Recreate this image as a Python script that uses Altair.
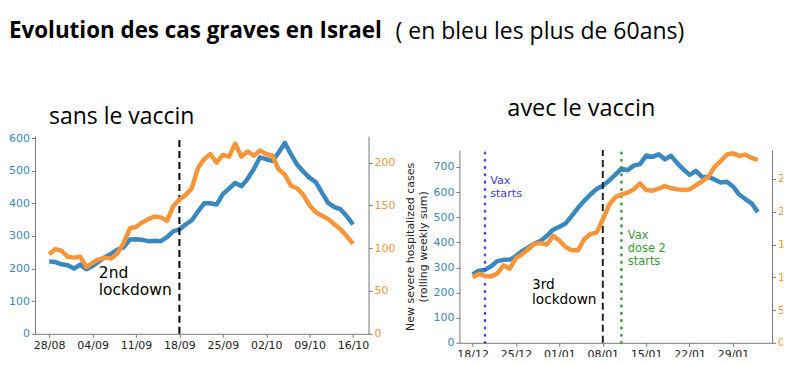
import altair as alt
import pandas as pd

BLUE = "#3a88c0"
ORANGE = "#f8953a"

# ---------------- data: left panel ("sans le vaccin") ----------------
left_start = "2020-08-28"
left_blue = [222, 220, 213, 210, 200, 212, 198, 208, 222, 235,
             245, 258, 265, 289, 290, 288, 284, 285, 284, 296,
             314, 320, 335, 348, 375, 400, 400, 396, 428, 445,
             462, 452, 475, 505, 541, 535, 530, 555, 585, 550,
             518, 497, 478, 465, 432, 401, 388, 381, 360, 335]
left_orange = [93, 99, 97, 90, 89, 90, 78, 83, 87, 89,
               88, 94, 106, 123, 125, 130, 134, 137, 136, 132,
               149, 157, 162, 170, 194, 204, 210, 200, 209, 207,
               222, 207, 213, 208, 214, 210, 208, 192, 186, 173,
               170, 162, 150, 142, 138, 134, 128, 122, 114, 105]
left_ticks = ["2020-08-28", "2020-09-04", "2020-09-11", "2020-09-18",
              "2020-09-25", "2020-10-02", "2020-10-09", "2020-10-16"]
left_domain = ["2020-08-25T17:00:00", "2020-10-18T12:00:00"]
left_blue_ticks = [0, 100, 200, 300, 400, 500, 600]
left_orange_ticks = [0, 50, 100, 150, 200]
left_blue_domain = [0, 606]
left_orange_domain = [0, 231]
left_event_dates = ["2020-09-18"]
left_label_dates = ["2020-09-05T00:00:00"]
left_label_y = [207]
left_labels = ["2nd\nlockdown"]

# ---------------- data: right panel ("avec le vaccin") ----------------
right_start = "2020-12-18"
right_blue = [272, 287, 290, 305, 325, 330, 331, 345, 365, 380,
              395, 406, 426, 450, 462, 475, 505, 537, 565, 590,
              612, 625, 645, 668, 693, 687, 705, 711, 745, 740,
              750, 730, 744, 715, 690, 668, 684, 660, 660, 650,
              638, 641, 622, 590, 572, 555, 520]
right_orange = [100, 105, 102, 101, 106, 118, 113, 129, 135, 143,
                151, 152, 150, 163, 156, 146, 141, 141, 158, 166,
                168, 188, 210, 222, 226, 229, 234, 243, 233, 232,
                235, 239, 236, 234, 233, 234, 240, 246, 253, 268,
                277, 287, 289, 285, 287, 282, 279]
right_ticks = ["2020-12-18", "2020-12-25", "2021-01-01", "2021-01-08",
               "2021-01-15", "2021-01-22", "2021-01-29"]
right_domain = ["2020-12-15T21:00:00", "2021-02-04T07:00:00"]
right_blue_ticks = [0, 100, 200, 300, 400, 500, 600, 700]
right_orange_ticks = [0, 50, 100, 150, 200, 250]
right_blue_domain = [0, 767]
right_orange_domain = [0, 294]
right_event_dates = ["2020-12-20", "2021-01-08", "2021-01-11"]
right_label_dates = ["2020-12-20T20:00:00", "2020-12-27T14:00:00", "2021-01-12T01:00:00"]
right_label_y = [668, 259, 450]
right_labels = ["Vax\nstarts", "3rd\nlockdown", "Vax\ndose 2\nstarts"]
right_ytitle = ["New severe hospitalized cases", "(rolling weekly sum)"]

# ---------------- texts above the panels ----------------
caption_texts = ["Evolution des cas graves en Israel", "( en bleu les plus de 60ans)",
                 "sans le vaccin", "avec le vaccin"]

# ---------------- layout / styles ----------------
W, H = 738, 207                      # whole plotting canvas (both panels)
LEFT_X, LEFT_Y = [0, 334], [198, 0]  # left panel pixel range
RIGHT_X, RIGHT_Y = [425, 738], [207, 14]

caption_styles = [
    dict(x=-26, y=-98, fontSize=22.4, fontWeight="bold"),
    dict(x=361, y=-97, fontSize=23, fontWeight="normal"),
    dict(x=14, y=-12, fontSize=23, fontWeight="normal"),
    dict(x=473, y=-20, fontSize=23.5, fontWeight="normal"),
]
DOTS = dict(strokeDash=[0.5, 6.8], strokeWidth=2.6, strokeCap="round")
left_event_styles = [
    dict(text=dict(color="black", fontSize=15.5, lineHeight=16.6),
         rule=dict(color="black", strokeDash=[7, 4], strokeWidth=2)),
]
right_event_styles = [
    dict(text=dict(color="#3a3ae0", fontSize=11.2, lineHeight=13),
         rule=dict(color="#4a4af0", **DOTS)),
    dict(text=dict(color="black", fontSize=13.7, lineHeight=15),
         rule=dict(color="#222222", strokeDash=[7, 4], strokeWidth=2)),
    dict(text=dict(color="#3a9a3a", fontSize=11.4, lineHeight=13),
         rule=dict(color="#3a9a3a", **DOTS)),
]


def dt(s):
    t = pd.Timestamp(s)
    return alt.DateTime(year=t.year, month=t.month, date=t.day, hours=t.hour)


def panel(start, blue_vals, orange_vals, ticks, domain, bdom, bticks, odom, oticks,
          ev_dates, lab_dates, lab_y, labels, ev_styles, xr, yr, x_off, yl_off, yr_off,
          ytitle=None, fs=11):
    df = pd.DataFrame({
        "date": pd.date_range(start, periods=len(blue_vals), freq="D"),
        "blue": blue_vals,
        "orange": orange_vals,
    })
    xs = alt.Scale(domain=[dt(domain[0]), dt(domain[1])], range=xr)
    xaxis = alt.Axis(values=[dt(t) for t in ticks], format="%d/%m", title=None,
                     orient="bottom", labelColor="#222222", labelFontSize=fs,
                     offset=x_off)
    x = alt.X("date:T", scale=xs, axis=xaxis)
    x_noaxis = alt.X("date:T", scale=xs, axis=None)
    bscale = alt.Scale(domain=bdom, nice=False, zero=True, range=yr)
    oscale = alt.Scale(domain=odom, nice=False, zero=True, range=yr)
    yaxis_kw = dict(values=bticks, orient="left", labelColor=BLUE, labelFontSize=fs,
                    offset=yl_off)
    if ytitle:
        yaxis_kw.update(title=ytitle, titleFont="DejaVu Sans", titleFontSize=11,
                        titleFontWeight="normal", titleColor="#222222", titlePadding=4)
    else:
        yaxis_kw.update(title=None)
    yaxis = alt.Axis(**yaxis_kw)
    base = alt.Chart(df)
    blue = base.mark_line(color=BLUE, strokeWidth=4.5, strokeJoin="round").encode(
        x=x, y=alt.Y("blue:Q", scale=bscale, axis=yaxis))
    parts = [blue]
    for d, ld, yv, lab, st in zip(ev_dates, lab_dates, lab_y, labels, ev_styles):
        tdf = pd.DataFrame({"date": [pd.Timestamp(ld)], "val": [yv], "label": [lab]})
        parts.append(alt.Chart(tdf).mark_text(baseline="top", align="left", lineBreak="\n",
                                              font="DejaVu Sans", **st["text"]).encode(
            x=x, y=alt.Y("val:Q", scale=bscale, axis=yaxis), text="label:N"))
        rdf = pd.DataFrame({"date": [pd.Timestamp(d)], "lo": [bdom[0]], "hi": [bdom[1]]})
        parts.append(alt.Chart(rdf).mark_rule(**st["rule"]).encode(
            x=x, y=alt.Y("lo:Q", scale=bscale, axis=yaxis), y2="hi:Q"))
    orange = base.mark_line(color=ORANGE, strokeWidth=4.5, strokeJoin="round").encode(
        x=x_noaxis, y=alt.Y("orange:Q", scale=oscale,
                            axis=alt.Axis(values=oticks, orient="right", labelColor=ORANGE,
                                          title=None, labelFontSize=fs, offset=yr_off)))
    return [alt.layer(*parts), orange]


left_layers = panel(left_start, left_blue, left_orange, left_ticks, left_domain,
                    left_blue_domain, left_blue_ticks, left_orange_domain, left_orange_ticks,
                    left_event_dates, left_label_dates, left_label_y, left_labels,
                    left_event_styles, LEFT_X, LEFT_Y,
                    x_off=LEFT_Y[0] - H, yl_off=-LEFT_X[0], yr_off=LEFT_X[1] - W)

right_layers = panel(right_start, right_blue, right_orange, right_ticks, right_domain,
                     right_blue_domain, right_blue_ticks, right_orange_domain,
                     right_orange_ticks, right_event_dates, right_label_dates,
                     right_label_y, right_labels, right_event_styles, RIGHT_X, RIGHT_Y,
                     x_off=RIGHT_Y[0] - H, yl_off=-RIGHT_X[0], yr_off=RIGHT_X[1] - W,
                     ytitle=right_ytitle)

captions = []
for txt, st in zip(caption_texts, caption_styles):
    captions.append(
        alt.Chart(pd.DataFrame({"t": [txt]})).mark_text(
            font="Open Sans", fontSize=st["fontSize"], fontWeight=st["fontWeight"],
            align="left", baseline="alphabetic", color="black").encode(
            text="t:N", x=alt.value(st["x"]), y=alt.value(st["y"])))

chart = alt.layer(*left_layers, *right_layers, *captions).resolve_scale(
    x="independent", y="independent").properties(
    width=W, height=H,
    padding={"left": 0, "top": 12, "right": -16, "bottom": -3},
).configure_view(stroke=None).configure_axis(
    grid=False, domainColor="#777777", tickColor="#777777", labelFont="DejaVu Sans",
    tickSize=3.5, labelPadding=2, domainWidth=1, tickWidth=1)

chart.save("out.html", embed_options={"renderer": "svg", "actions": False})
